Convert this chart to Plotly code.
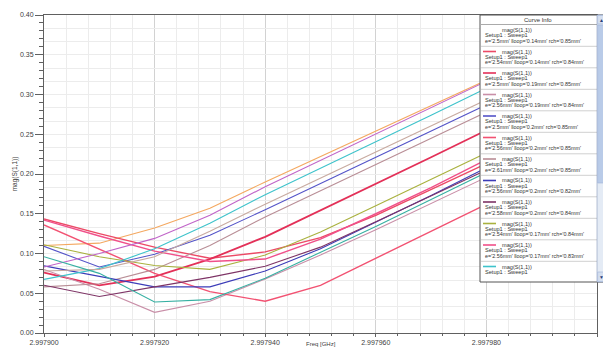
import plotly.graph_objects as go

# ---------------- data ----------------
freq_ghz = [2.997900, 2.997910, 2.997920, 2.997930, 2.997940, 2.997950,
            2.997960, 2.997970, 2.997980, 2.997990, 2.998000]

c00_orange = [0.110, 0.113, 0.132, 0.157, 0.190, 0.222, 0.254, 0.286, 0.318, 0.350, 0.382]
c01_red = [0.1435, 0.125, 0.108, 0.094, 0.102, 0.120, 0.148, 0.180, 0.213, 0.246, 0.279]
c02_red = [0.076, 0.060, 0.071, 0.093, 0.121, 0.154, 0.188, 0.221, 0.255, 0.289, 0.323]
c03_mauve = [0.080, 0.055, 0.026, 0.040, 0.068, 0.098, 0.130, 0.163, 0.196, 0.229, 0.262]
c04_blue = [0.109, 0.083, 0.099, 0.123, 0.155, 0.188, 0.221, 0.254, 0.287, 0.320, 0.353]
c05_red = [0.136, 0.106, 0.075, 0.052, 0.040, 0.060, 0.094, 0.128, 0.162, 0.196, 0.230]
c06_mauve = [0.058, 0.062, 0.080, 0.110, 0.146, 0.179, 0.212, 0.245, 0.278, 0.311, 0.344]
c07_blue = [0.0845, 0.071, 0.058, 0.058, 0.078, 0.106, 0.139, 0.173, 0.208, 0.242, 0.276]
c08_purple = [0.060, 0.046, 0.058, 0.070, 0.084, 0.108, 0.140, 0.172, 0.205, 0.238, 0.271]
c09_olive = [0.111, 0.096, 0.085, 0.080, 0.098, 0.127, 0.160, 0.193, 0.227, 0.260, 0.293]
c10_pink = [0.142, 0.122, 0.103, 0.090, 0.093, 0.118, 0.150, 0.183, 0.218, 0.251, 0.284]
c11_cyan = [0.0675, 0.081, 0.106, 0.138, 0.174, 0.207, 0.240, 0.274, 0.308, 0.341, 0.375]
c12_magenta = [0.083, 0.100, 0.119, 0.148, 0.184, 0.217, 0.250, 0.283, 0.317, 0.350, 0.383]
c13_beige = [0.078, 0.080, 0.096, 0.128, 0.162, 0.195, 0.228, 0.260, 0.293, 0.326, 0.359]
c14_teal = [0.096, 0.075, 0.039, 0.042, 0.069, 0.101, 0.134, 0.168, 0.202, 0.236, 0.270]

param_e = ["2.5", "2.54", "2.5", "2.56", "2.5", "2.56", "2.61", "2.56", "2.58", "2.54",
           "2.56", "2.5", "2.52", "2.58", "2.54"]
param_lloop = ["0.14", "0.14", "0.19", "0.19", "0.2", "0.2", "0.2", "0.2", "0.2", "0.17",
               "0.17", "0.17", "0.17", "0.19", "0.19"]
param_rch = ["0.85", "0.84", "0.85", "0.84", "0.85", "0.85", "0.85", "0.82", "0.84", "0.84",
             "0.83", "0.85", "0.85", "0.85", "0.84"]

x_tick_vals = [2.997900, 2.997920, 2.997940, 2.997960, 2.997980, 2.998000]
x_tick_text = ["2.997900", "2.997920", "2.997940", "2.997960", "2.997980", "2.998000"]
y_tick_vals = [0.00, 0.05, 0.10, 0.15, 0.20, 0.25, 0.30, 0.35, 0.40]
y_tick_text = ["0.00", "0.05", "0.10", "0.15", "0.20", "0.25", "0.30", "0.35", "0.40"]

curves = [c00_orange, c01_red, c02_red, c03_mauve, c04_blue, c05_red, c06_mauve, c07_blue,
          c08_purple, c09_olive, c10_pink, c11_cyan, c12_magenta, c13_beige, c14_teal]
colors = ["#f4a860", "#ec4a66", "#e33058", "#c98fa8", "#5454c8", "#f25272", "#b98e96",
          "#3c3cb8", "#7e3466", "#a9b13e", "#f0508a", "#3ec3cb", "#c064c8", "#c8aaa0", "#36b0a2"]
widths = [1.1, 1.4, 1.8, 1.1, 1.1, 1.4, 1.1, 1.1, 1.1, 1.1, 1.4, 1.1, 1.1, 1.1, 1.1]

FONT = "Liberation Sans, Arial, sans-serif"

fig = go.Figure()
names = []
for i, ys in enumerate(curves):
    nm = f"e='{param_e[i]}mm' lloop='{param_lloop[i]}mm' rch='{param_rch[i]}mm'"
    names.append(nm)
    fig.add_trace(go.Scatter(x=freq_ghz, y=ys, mode="lines", name=nm,
                             line=dict(color=colors[i], width=widths[i]),
                             showlegend=False))

# overlay axis only used for the finer horizontal grid
fig.add_trace(go.Scatter(x=[freq_ghz[0]], y=[0], yaxis="y2", mode="markers",
                         marker=dict(opacity=0), showlegend=False, hoverinfo="skip"))

# page pixels (the page body adds an 8px offset)
OFF = 8
L, R, T, B = 44, 597, 15, 333
W, H = 611 - OFF, 349 - OFF


def px(x):
    return (x - L) / (R - L)


def py(y):
    return (B - y) / (B - T)


shapes = []
annotations = []

# legend box
shapes.append(dict(type="rect", xref="paper", yref="paper", x0=px(480), x1=px(605),
                   y0=py(282), y1=py(15), fillcolor="white",
                   line=dict(color="#555555", width=1), layer="above"))
annotations.append(dict(text="Curve Info", xref="paper", yref="paper", x=px(538), y=py(20),
                        showarrow=False, xanchor="center", yanchor="middle",
                        font=dict(family=FONT, size=6, color="#333333")))
shapes.append(dict(type="line", xref="paper", yref="paper", x0=px(480), x1=px(597),
                   y0=py(24.5), y1=py(24.5), line=dict(color="#aaaaaa", width=1), layer="above"))

n_vis = 12
for i in range(n_vis):
    ym = 30 + 21.5 * i
    if i > 0:
        shapes.append(dict(type="line", xref="paper", yref="paper", x0=px(481), x1=px(597),
                           y0=py(ym - 5.2), y1=py(ym - 5.2),
                           line=dict(color="#d0d0d0", width=1), layer="above"))
        shapes.append(dict(type="line", xref="paper", yref="paper", x0=px(483), x1=px(496),
                           y0=py(ym), y1=py(ym),
                           line=dict(color=colors[i], width=1.6), layer="above"))
    annotations.append(dict(text="mag(S(1,1))", xref="paper", yref="paper", x=px(500), y=py(ym),
                            showarrow=False, xanchor="left", yanchor="middle",
                            font=dict(family=FONT, size=5.6, color="#333333")))
    annotations.append(dict(text="Setup1 : Sweep1", xref="paper", yref="paper", x=px(483),
                            y=py(ym + 5.4), showarrow=False, xanchor="left", yanchor="middle",
                            font=dict(family=FONT, size=5.6, color="#333333")))
    if i < n_vis - 1:
        annotations.append(dict(text=names[i], xref="paper", yref="paper", x=px(483),
                                y=py(ym + 10.8), showarrow=False, xanchor="left",
                                yanchor="middle",
                                font=dict(family=FONT, size=5.4, color="#333333")))

# scrollbar
shapes.append(dict(type="rect", xref="paper", yref="paper", x0=px(597), x1=px(605),
                   y0=py(282), y1=py(15), fillcolor="#e4ebf5",
                   line=dict(color="#8899bb", width=0.6), layer="above"))
shapes.append(dict(type="rect", xref="paper", yref="paper", x0=px(597.6), x1=px(604.4),
                   y0=py(183), y1=py(25), fillcolor="#b9cbe8",
                   line=dict(color="#9fb3d6", width=0.6), layer="above"))
for (y0, y1) in [(15.5, 24), (272, 281.5)]:
    shapes.append(dict(type="rect", xref="paper", yref="paper", x0=px(597.6), x1=px(604.4),
                       y0=py(y1), y1=py(y0), fillcolor="#d4dff0",
                       line=dict(color="#9fb3d6", width=0.6), layer="above"))
annotations.append(dict(text="▲", xref="paper", yref="paper", x=px(601), y=py(19.5),
                        showarrow=False, xanchor="center", yanchor="middle",
                        font=dict(family=FONT, size=5, color="#2a3f7a")))
annotations.append(dict(text="▼", xref="paper", yref="paper", x=px(601), y=py(277),
                        showarrow=False, xanchor="center", yanchor="middle",
                        font=dict(family=FONT, size=5, color="#2a3f7a")))
# x-axis title just under the tick labels
annotations.append(dict(text="Freq [GHz]", xref="paper", yref="paper", x=px(321), y=py(349),
                        showarrow=False, xanchor="center", yanchor="bottom",
                        font=dict(family=FONT, size=6, color="#404040")))

fig.update_layout(
    width=W, height=H,
    margin=dict(l=L - OFF, r=W - (R - OFF), t=T - OFF, b=H - (B - OFF), pad=0),
    paper_bgcolor="white", plot_bgcolor="white",
    font=dict(family=FONT, size=7, color="#404040"),
    xaxis=dict(range=[2.9979, 2.998], tickmode="array", tickvals=x_tick_vals,
               ticktext=x_tick_text, ticks="outside", ticklen=3, tickcolor="#606060",
               showline=True, linecolor="#606060", linewidth=1, mirror=True,
               showgrid=True, gridcolor="#d2d2d2", gridwidth=1, zeroline=False,
               tickfont=dict(size=7, color="#404040"),
               minor=dict(dtick=0.000004, tick0=2.9979, ticks="outside", ticklen=2,
                          tickcolor="#606060", showgrid=True, gridcolor="#ececec"),
               automargin=False),
    yaxis=dict(range=[0, 0.4], tickmode="array", tickvals=y_tick_vals, ticktext=y_tick_text,
               ticks="outside", ticklen=8, tickcolor="#606060",
               showline=True, linecolor="#606060", linewidth=1, mirror=True,
               showgrid=True, gridcolor="#d2d2d2", gridwidth=1, zeroline=False,
               tickfont=dict(size=7, color="#404040"),
               minor=dict(dtick=0.01, tick0=0, ticks="outside", ticklen=4,
                          tickcolor="#606060", showgrid=False),
               title=dict(text="mag(S(1,1))", font=dict(size=6.5, color="#404040"), standoff=1),
               automargin=False),
    yaxis2=dict(range=[0, 0.4], overlaying="y", side="left", dtick=0.05 / 3, tick0=0,
                showticklabels=False, ticks="", showgrid=True, gridcolor="#ececec",
                zeroline=False, showline=False),
    shapes=shapes,
    annotations=annotations,
)

fig.write_html("out.html")
